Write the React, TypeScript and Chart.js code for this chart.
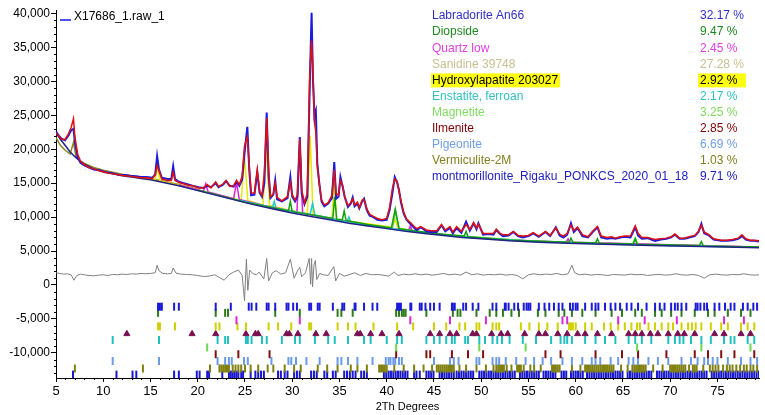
import React, { useEffect, useRef } from "react";
import { Chart, registerables } from "chart.js";

Chart.register(...registerables);

const FONT = "'Liberation Sans', Arial, sans-serif";

// ---------- pattern data (2Theta in degrees, intensity in counts) ----------
const sampleName = "X17686_1.raw_1";

const twoTheta = [
  5.0, 5.3, 5.6, 5.95, 6.3, 6.6, 6.85, 7.0, 7.3, 7.6,
  8.0, 8.5, 9.0, 9.6, 10.2, 10.8, 11.4, 11.7, 12.3, 12.8,
  13.4, 14.0, 14.6, 15.2, 15.5, 15.7, 15.9, 16.2, 16.8, 17.2,
  17.4, 17.6, 18.0, 18.5, 19.0, 19.5, 20.1, 20.6, 21.0, 21.4,
  21.9, 22.2, 22.7, 23.0, 23.4, 23.8, 24.1, 24.4, 24.7, 24.95,
  25.25, 25.45, 25.65, 26.0, 26.3, 26.55, 26.8, 27.05, 27.3, 27.5,
  27.7, 28.0, 28.2, 28.4, 28.9, 29.5, 29.8, 30.0, 30.3, 30.55,
  30.8, 31.0, 31.3, 31.6, 31.85, 32.05, 32.2, 32.35, 32.5, 32.65,
  32.85, 33.1, 33.4, 33.8, 34.2, 34.45, 34.65, 34.9, 35.1, 35.35,
  35.55, 35.9, 36.2, 36.4, 36.6, 36.9, 37.1, 37.4, 37.6, 37.9,
  38.2, 38.6, 39.0, 39.5, 40.0, 40.3, 40.6, 40.85, 41.1, 41.3,
  41.5, 41.8, 42.1, 42.5, 43.0, 43.2, 43.6, 44.2, 44.7, 45.3,
  45.8, 46.2, 46.7, 47.0, 47.4, 47.9, 48.4, 48.8, 49.2, 49.5,
  49.7, 50.2, 50.8, 51.3, 51.6, 52.0, 52.3, 52.9, 53.4, 53.9,
  54.4, 55.0, 55.5, 56.1, 56.8, 57.3, 57.9, 58.3, 58.7, 59.1,
  59.5, 59.8, 60.2, 60.7, 61.3, 61.8, 62.3, 62.7, 63.3, 63.8,
  64.2, 64.7, 65.2, 65.8, 66.3, 66.6, 67.0, 67.6, 68.4, 69.0,
  69.6, 70.1, 70.5, 71.0, 71.5, 72.0, 72.6, 73.0, 73.3, 73.6,
  74.1, 74.6, 75.4, 76.0, 76.6, 77.2, 77.6, 78.0, 78.5, 78.9,
  79.4,
];

const observed = [
  22600, 22000, 21500, 21300, 22000, 22800, 23000, 21000, 18800, 18000,
  17600, 17300, 17000, 16900, 16600, 16500, 16300, 16200, 16200, 16100,
  16000, 15900, 15900, 15800, 16300, 19000, 17000, 15800, 15600, 15600,
  17500, 15600, 15200, 15000, 14800, 14600, 14400, 14300, 14600, 14400,
  15000, 14400, 14800, 15300, 14600, 14500, 15200, 14600, 15500, 19400,
  23300, 17000, 13200, 13300, 16600, 13600, 13000, 15000, 25400, 16000,
  12800, 13300, 15400, 12600, 12300, 12800, 15900, 13000, 12300, 13000,
  21800, 13500, 11900, 13000, 29000, 40100, 30000, 25000, 25700, 18000,
  15200, 12300, 11600, 12000, 12800, 18100, 12700, 13000, 15900, 14400,
  13000, 11500, 12000, 12900, 11600, 12000, 11300, 12300, 12700, 11000,
  10200, 10000, 9600, 9500, 9600, 11000, 13500, 15900, 15100, 14000,
  12200, 10500, 9600, 9000, 8300, 8100, 8500, 7900, 7800, 7800,
  8800, 7900, 8400, 7600, 8400, 7700, 9300, 8000, 9100, 8200,
  9100, 7400, 7500, 7400, 8100, 7500, 7200, 7300, 7800, 7200,
  7000, 7200, 7600, 7100, 7800, 7200, 8500, 7300, 7000, 7400,
  9100, 7800, 8400, 7200, 7000, 7800, 8500, 7000, 6800, 6900,
  6800, 7000, 7100, 7000, 8500, 7300, 6800, 6900, 6500, 6700,
  6800, 7000, 7400, 6800, 6800, 7000, 7200, 7800, 9000, 7600,
  7300, 6700, 6500, 6500, 6600, 6800, 7200, 6700, 6500, 6500,
  6400,
];

const calculated = [
  22400, 21900, 21500, 21400, 22200, 23200, 24500, 21800, 19200, 18200,
  17700, 17300, 17100, 16800, 16600, 16400, 16300, 16200, 16100, 16000,
  15900, 15800, 15800, 15700, 16200, 17600, 16800, 15600, 15400, 15400,
  16600, 15400, 15100, 14900, 14700, 14600, 14300, 14300, 14800, 14300,
  15200, 14500, 14900, 15400, 14500, 14600, 15400, 14800, 16000, 20500,
  21800, 17500, 13600, 13500, 17000, 13800, 13200, 16500, 24600, 17200,
  13000, 13400, 15000, 12900, 12400, 13000, 15200, 13300, 12500, 13300,
  21500, 14000, 12100, 13600, 31000, 36000, 31500, 24000, 22500, 17500,
  15000, 12500, 11800, 12100, 13200, 17000, 13500, 13200, 15400, 14600,
  13000, 11700, 12100, 12700, 11800, 12200, 11400, 12500, 12600, 11200,
  10400, 10100, 9800, 9600, 9800, 11400, 14200, 15600, 15300, 13800,
  12500, 10700, 9700, 9200, 8500, 8300, 8600, 8100, 8000, 8000,
  8900, 8100, 8600, 7800, 8600, 7900, 8900, 8200, 9200, 8400,
  9000, 7600, 7600, 7600, 8200, 7600, 7400, 7400, 7900, 7300,
  7200, 7300, 7700, 7200, 7900, 7300, 8400, 7500, 7200, 7600,
  8800, 8000, 8500, 7400, 7100, 7900, 8600, 7200, 7000, 7100,
  6900, 7100, 7200, 7200, 8700, 7600, 7000, 7000, 6700, 6800,
  6900, 7100, 7500, 6900, 6900, 7100, 7300, 7900, 8800, 7800,
  7400, 6800, 6600, 6600, 6700, 6900, 7400, 6800, 6600, 6600,
  6500,
];

const bgTheta = [5, 5.5, 6, 6.5, 7, 7.5, 8, 9, 10, 11, 12, 13, 14, 15, 16, 18, 20, 22, 24, 26,
  28, 30, 32, 34, 36, 38, 40, 42, 44, 46, 48, 50, 53, 56, 60, 64, 68, 72, 76, 79.4];
const background = [22400, 21400, 20500, 19600, 18900, 18300, 17800, 17100, 16700, 16400,
  16100, 15900, 15700, 15500, 15200, 14600, 13900, 13200, 12500, 11800,
  11200, 10600, 10100, 9600, 9100, 8700, 8300, 7900, 7600, 7300,
  7000, 6800, 6500, 6300, 6100, 5950, 5800, 5700, 5600, 5500];

const diffTheta = [
  5.0, 5.4, 5.8, 6.2, 6.6, 6.9, 7.2, 7.6, 8.0, 8.5,
  9.0, 9.5, 10.0, 10.5, 11.0, 11.5, 12.0, 12.5, 13.0, 13.5,
  14.0, 14.5, 15.0, 15.5, 15.7, 15.9, 16.3, 16.8, 17.2, 17.4,
  17.7, 18.2, 18.8, 19.4, 20.0, 20.6, 21.2, 21.8, 22.3, 22.8,
  23.3, 23.8, 24.3, 24.7, 24.95, 25.15, 25.3, 25.5, 25.8, 26.2,
  26.5, 27.0, 27.3, 27.5, 27.9, 28.3, 28.8, 29.3, 29.8, 30.2,
  30.6, 30.8, 31.0, 31.4, 31.8, 31.95, 32.05, 32.15, 32.3, 32.45,
  32.6, 32.9, 33.3, 33.8, 34.4, 34.6, 35.0, 35.5, 36.0, 36.6,
  37.2, 37.8, 38.4, 39.0, 39.6, 40.2, 40.8, 41.2, 41.8, 42.4,
  43.0, 43.6, 44.2, 44.8, 45.4, 46.0, 46.6, 47.2, 47.8, 48.4,
  49.0, 49.6, 50.2, 50.8, 51.4, 52.0, 52.6, 53.2, 53.8, 54.4,
  55.0, 55.6, 56.2, 56.8, 57.4, 58.0, 58.6, 59.2, 59.6, 59.9,
  60.4, 61.0, 61.6, 62.2, 62.8, 63.4, 64.0, 64.6, 65.2, 65.8,
  66.4, 67.0, 67.6, 68.2, 68.8, 69.4, 70.0, 70.6, 71.2, 71.8,
  72.4, 73.0, 73.6, 74.2, 74.8, 75.4, 76.0, 76.6, 77.2, 77.8,
  78.4, 79.0, 79.4,
];
const difference = [
  1800, 1700, 1600, 1650, 1500, 700, 1400, 1600, 1500, 1400,
  1350, 1450, 1500, 1400, 1550, 1500, 1600, 1550, 1650, 1600,
  1700, 1650, 1700, 1800, 2900, 2100, 1700, 1650, 1700, 2500,
  1750, 1600, 1550, 1500, 1400, 1250, 1300, 1500, 1100, 700,
  1500, 1900, 2200, 1400, -2300, 3800, -800, 2200, 1700, 1500,
  1900, 900, 3900, 600, 1800, 2100, 1600, 1800, 3800, 1000,
  2200, 2600, 1200, 1800, 3900, 100, 3900, -300, 2900, 3600,
  800, 1700, 1500, 1400, 2700, 600, 1700, 1300, 1500, 1800,
  1400, 1700, 1500, 1550, 1450, 1300, 1900, 1400, 1600, 1500,
  1650, 1500, 1600, 1450, 1550, 1700, 1500, 1600, 1450, 1900,
  1500, 1650, 1450, 1550, 1500, 1600, 1450, 1550, 1400, 900,
  1500, 1650, 1500, 1600, 1550, 1700, 1500, 1650, 2900, 1800,
  1500, 1600, 1450, 1550, 1500, 1400, 1550, 1500, 1450, 1600,
  1500, 1550, 1400, 1500, 1550, 1450, 1500, 1650, 1500, 1450,
  1550, 1400, 1000, 1500, 1600, 1500, 1450, 1550, 1500, 1650,
  1500, 1450, 1500,
];

// ---------- individual phase profiles (background + phase) ----------
const vermiculiteTheta = [5, 5.5, 6.0, 6.5, 6.85, 7.1, 7.5, 8, 9, 10, 12, 14, 16, 18, 20];
const vermiculiteCounts = [21700, 20500, 19800, 19300, 21000, 19000, 18300, 17900, 17300, 16900, 16300, 15900, 15400, 14800, 14100];

const sanidineTheta = [14, 15.5, 15.75, 16.0, 18, 20, 22, 24.6, 24.95, 25.3, 26.9, 27.25, 27.6, 29.5, 31.6, 31.9, 32.2, 34.2, 34.45, 34.7, 37, 40.6, 40.9, 41.2, 44, 48, 53, 60, 68, 79.4];
const sanidineCounts = [15900, 15500, 17300, 15300, 14700, 14000, 13300, 12500, 19000, 12400, 11800, 20200, 11700, 11100, 10500, 22000, 10400, 9800, 15000, 9700, 9200, 8500, 9600, 8400, 7700, 7100, 6600, 6200, 5900, 5600];

const quartzTheta = [18, 20.6, 20.85, 21.1, 23.8, 24.1, 24.4, 27, 30.5, 30.8, 31.1, 34, 38, 42.3, 42.5, 42.7, 46, 50, 55, 59.0, 59.2, 59.4, 65, 72, 79.4];
const quartzCounts = [14700, 13800, 14900, 13700, 12700, 15100, 12600, 11700, 10700, 20800, 10600, 9800, 8800, 8000, 8700, 7900, 7400, 6900, 6500, 6300, 6800, 6300, 6100, 5850, 5600];

const diopsideTheta = [20, 25, 29.6, 29.8, 30.0, 34.3, 34.5, 34.7, 35.3, 35.5, 35.7, 38, 40.5, 40.9, 41.3, 45, 48.2, 48.4, 48.6, 53, 59.3, 59.5, 59.7, 62.1, 62.3, 62.5, 66.1, 66.3, 66.5, 73.1, 73.3, 73.5, 79.4];
const diopsideCounts = [14000, 12200, 10900, 12300, 10800, 9800, 13000, 9700, 9600, 10900, 9500, 8900, 8400, 11200, 8300, 7600, 7200, 7900, 7100, 6600, 6300, 6900, 6300, 6200, 6800, 6150, 6050, 6800, 6000, 5800, 6400, 5750, 5600];

const enstatiteTheta = [24, 27.9, 28.1, 28.3, 31.9, 32.15, 32.4, 35.8, 36.0, 36.2, 40, 44, 50, 56, 64, 72, 79.4];
const enstatiteCounts = [12600, 11400, 12300, 11300, 10400, 12000, 10300, 9300, 10000, 9200, 8400, 7700, 6900, 6400, 6000, 5750, 5550];

const magnetiteTheta = [36, 40.6, 40.95, 41.3, 46, 55, 62, 66.0, 66.3, 66.6, 72, 79.4];
const magnetiteCounts = [9200, 8400, 10800, 8300, 7400, 6500, 6150, 6000, 6900, 5950, 5750, 5550];

// ---------- axis tick values ----------
const xTickValues = [5, 10, 15, 20, 25, 30, 35, 40, 45, 50, 55, 60, 65, 70, 75];
const yTickValues = [-10000, -5000, 0, 5000, 10000, 15000, 20000, 25000, 30000, 35000, 40000];

// ---------- phase legend ----------
const phaseNames = [
  "Labradorite An66", "Diopside", "Quartz low", "Sanidine 39748", "Hydroxylapatite 203027",
  "Enstatite, ferroan", "Magnetite", "Ilmenite", "Pigeonite", "Vermiculite-2M",
  "montmorillonite_Rigaku_PONKCS_2020_01_18",
];
const phasePercents = ["32.17 %", "9.47 %", "2.45 %", "27.28 %", "2.92 %", "2.17 %", "3.25 %", "2.85 %", "6.69 %", "1.03 %", "9.71 %"];
const phaseTextColors = ["#3030c8", "#1f8a1f", "#e040e0", "#c8c090", "#000000", "#30c0c0", "#80dd60", "#800000", "#70a0e8", "#808020", "#2020c0"];
const phaseTickColors = ["#1a1ad8", "#2f7a1a", "#d828d8", "#d0d000", "#7a1050", "#20c0c0", "#70d850", "#801010", "#6a9ae8", "#808010", "#1818d0"];
const selectedPhase = 4;

// ---------- reflection positions (2Theta) per phase ----------
const labradoriteTicks = [15.8, 16.0, 16.2, 17.5, 18.0, 21.9, 23.5, 25.4, 25.7, 26.2, 27.3, 27.5, 28.2, 29.4, 29.6, 30.1, 30.5, 31.8, 32.0, 32.7, 32.9, 34.3, 35.3, 35.5, 36.6, 36.7, 37.6, 38.5, 39.0, 41.1, 41.3, 41.5, 42.5, 42.6, 43.5, 43.7, 44.1, 44.6, 45.0, 45.6, 46.9, 47.0, 47.2, 48.1, 48.4, 49.1, 49.7, 51.2, 51.6, 52.5, 52.6, 52.9, 53.5, 53.9, 54.5, 54.8, 55.0, 55.2, 56.1, 56.7, 57.2, 57.7, 58.2, 58.6, 59.4, 59.7, 60.0, 60.2, 61.0, 61.7, 62.1, 62.4, 63.1, 63.7, 64.2, 64.7, 65.4, 65.9, 66.6, 67.5, 68.4, 68.9, 69.4, 70.1, 70.5, 70.8, 71.2, 71.7, 72.7, 72.9, 73.2, 73.6, 73.9, 74.7, 75.2, 75.8, 76.4, 76.8, 77.7, 78.2, 78.8, 79.2];
const diopsideTicks = [15.8, 21.9, 22.9, 23.2, 28.2, 30.8, 34.8, 35.2, 36.4, 41.0, 41.3, 41.6, 41.8, 42.0, 44.2, 47.0, 47.5, 47.8, 49.5, 50.9, 51.6, 52.3, 53.2, 54.0, 56.0, 56.8, 58.2, 58.8, 59.6, 60.7, 62.1, 63.8, 64.9, 66.3, 67.0, 68.4, 69.1, 70.1, 71.2, 72.6, 74.0, 74.7, 76.1, 77.5, 78.5];
const quartzTicks = [24.1, 30.8, 42.5, 46.7, 50.5, 58.6, 59.1, 64.5, 67.3, 70.7, 75.7, 77.8];
const sanidineTicks = [15.8, 16.0, 17.6, 21.9, 22.3, 24.2, 25.1, 27.5, 28.5, 29.9, 31.8, 32.0, 34.8, 35.9, 36.7, 38.6, 41.1, 42.8, 45.0, 46.3, 47.7, 48.3, 49.5, 49.8, 51.2, 51.6, 51.9, 54.2, 55.1, 56.1, 57.0, 58.1, 59.3, 59.5, 59.7, 60.0, 61.0, 61.7, 63.0, 63.7, 64.5, 65.2, 65.9, 66.5, 66.8, 67.7, 68.4, 69.1, 69.8, 70.3, 71.2, 71.9, 72.3, 72.7, 73.3, 74.3, 75.4, 76.1, 77.5, 78.2, 78.9];
const hydroxylapatiteTicks = [12.5, 19.4, 21.9, 25.1, 26.1, 26.4, 29.4, 29.7, 30.6, 32.5, 33.6, 36.9, 37.2, 38.3, 39.5, 41.3, 44.6, 45.6, 46.7, 47.4, 49.1, 49.5, 51.1, 52.1, 52.8, 54.6, 56.1, 56.8, 58.1, 59.1, 60.2, 61.0, 62.3, 63.8, 65.6, 66.3, 67.0, 67.9, 68.7, 69.8, 70.8, 71.5, 72.6, 74.7, 75.7, 77.5, 78.5];
const enstatiteTicks = [11.0, 15.9, 22.1, 22.9, 23.2, 25.1, 25.3, 25.7, 26.8, 27.3, 28.9, 30.3, 30.8, 32.4, 33.8, 34.5, 35.9, 37.6, 38.3, 40.0, 41.1, 41.6, 44.2, 45.0, 45.6, 46.3, 46.9, 47.2, 48.3, 48.6, 49.8, 50.4, 51.2, 51.7, 52.2, 53.0, 54.4, 55.8, 57.4, 58.4, 58.8, 59.1, 59.6, 61.0, 62.1, 63.1, 64.2, 65.6, 66.3, 67.0, 68.0, 69.8, 70.5, 71.0, 71.4, 72.2, 73.3, 74.3, 75.7, 76.4, 76.8, 78.2, 78.9];
const magnetiteTicks = [21.0, 41.0, 49.8, 54.7, 66.5, 73.3, 78.5];
const ilmeniteTicks = [21.9, 24.3, 27.6, 41.0, 44.2, 44.6, 46.9, 48.6, 50.2, 56.8, 58.4, 62.1, 64.9, 66.6, 69.6, 72.6, 74.0, 75.4, 76.8, 78.9];
const pigeoniteTicks = [11.0, 15.9, 22.1, 22.9, 23.3, 23.6, 24.9, 25.3, 27.8, 29.6, 29.9, 30.4, 31.5, 32.9, 34.8, 35.2, 35.9, 36.9, 38.5, 39.9, 40.2, 40.4, 40.7, 40.9, 41.3, 41.6, 45.0, 46.7, 47.1, 47.6, 49.5, 49.8, 51.2, 51.6, 51.9, 52.6, 53.7, 54.7, 55.6, 56.5, 57.4, 58.6, 59.6, 60.7, 61.7, 62.1, 62.6, 63.7, 64.5, 65.6, 66.1, 66.6, 67.7, 68.7, 69.8, 71.2, 72.2, 72.9, 73.6, 74.0, 74.5, 75.0, 76.1, 77.5, 78.5, 79.2];
const vermiculiteTicks = [7.0, 14.2, 21.3, 22.3, 22.5, 22.7, 22.9, 23.1, 23.3, 23.7, 24.0, 24.3, 24.6, 25.0, 25.6, 26.4, 27.4, 28.0, 29.2, 30.2, 30.9, 32.7, 33.7, 34.8, 36.2, 36.9, 37.9, 39.2, 39.4, 39.6, 39.8, 40.0, 40.8, 41.8, 42.9, 43.9, 44.8, 45.3, 45.5, 45.7, 45.9, 46.1, 46.3, 46.5, 46.7, 46.9, 47.1, 47.7, 48.4, 49.5, 50.5, 51.3, 51.6, 51.8, 52.0, 52.2, 52.4, 52.7, 53.2, 53.8, 54.0, 54.2, 54.5, 55.2, 55.6, 56.3, 57.5, 57.7, 57.9, 58.1, 58.3, 59.6, 60.5, 61.0, 61.2, 61.4, 61.6, 61.8, 62.0, 62.2, 62.4, 62.6, 62.8, 63.0, 63.2, 63.4, 63.6, 63.8, 64.0, 64.8, 65.5, 66.0, 66.2, 66.4, 66.6, 66.8, 67.0, 67.2, 67.4, 68.2, 69.2, 70.0, 70.2, 70.4, 70.6, 70.8, 71.0, 71.2, 71.4, 71.6, 72.0, 72.4, 72.6, 72.8, 73.5, 74.2, 74.5, 74.8, 75.1, 75.6, 76.0, 76.3, 76.6, 77.0, 77.4, 77.8, 78.1, 78.5, 78.8, 79.2];
const montmorilloniteTicks = [6.8, 11.4, 13.1, 13.5, 17.5, 18.0, 19.9, 20.2, 21.0, 21.2, 22.6, 23.3, 23.5, 23.7, 23.9, 24.1, 24.3, 24.6, 24.8, 25.6, 26.1, 26.4, 26.7, 27.0, 28.5, 28.8, 29.2, 29.5, 30.2, 30.5, 30.8, 32.0, 32.3, 32.6, 33.4, 33.7, 34.3, 34.6, 35.5, 35.8, 36.1, 36.4, 36.7, 37.3, 37.6, 37.9, 39.7, 39.95, 40.2, 40.45, 40.7, 40.95, 41.2, 41.45, 41.7, 41.95, 42.2, 42.9, 43.15, 43.5, 44.2, 44.45, 44.7, 44.95, 45.6, 45.85, 46.1, 46.35, 46.6, 46.85, 47.1, 47.4, 47.65, 47.9, 48.15, 48.4, 48.65, 48.9, 49.15, 49.8, 50.05, 50.3, 50.55, 50.8, 51.05, 51.3, 51.55, 51.8, 52.05, 52.3, 52.55, 52.8, 53.05, 53.3, 53.55, 54.1, 54.35, 54.6, 54.85, 55.1, 55.35, 55.6, 55.85, 56.1, 56.6, 56.85, 57.1, 57.35, 57.6, 57.85, 58.5, 58.75, 59.0, 59.5, 59.75, 60.0, 60.25, 60.5, 60.75, 61.2, 61.45, 61.7, 61.95, 62.2, 62.45, 62.7, 62.95, 63.2, 63.45, 63.7, 63.95, 64.2, 64.45, 64.7, 64.95, 65.5, 65.75, 66.0, 66.25, 66.5, 66.75, 67.0, 67.25, 67.5, 67.75, 68.0, 68.6, 68.85, 69.1, 69.35, 69.6, 69.85, 70.1, 70.35, 70.6, 70.85, 71.1, 71.35, 71.6, 71.85, 72.1, 72.35, 72.6, 72.85, 73.1, 73.35, 73.6, 73.85, 74.4, 74.65, 74.9, 75.15, 75.4, 75.65, 75.9, 76.15, 76.4, 76.65, 76.9, 77.15, 77.4, 77.65, 77.9, 78.15, 78.4, 78.65, 78.9, 79.15, 79.4];

const phaseTicks = [labradoriteTicks, diopsideTicks, quartzTicks, sanidineTicks, hydroxylapatiteTicks, enstatiteTicks, magnetiteTicks, ilmeniteTicks, pigeoniteTicks, vermiculiteTicks, montmorilloniteTicks];
// intensity level (counts) at which each phase's reflection row is drawn
const tickRowLevels = [-3200, -4100, -5200, -6100, -7200, -8100, -9200, -10200, -11200, -12300, -13200];

const OBS_COLOR = "#1a1ae0";

function pairs(xs: number[], ys: number[]) {
  return xs.map((x, i) => ({ x, y: ys[i] }));
}

function lineDs(label: string, xs: number[], ys: number[], color: string, width: number, order: number) {
  return {
    label,
    data: pairs(xs, ys),
    borderColor: color,
    backgroundColor: color,
    borderWidth: width,
    pointRadius: 0,
    tension: 0,
    fill: false,
    order,
  };
}

const overlayPlugin = {
  id: "xrdOverlay",
  afterDraw(chart: any) {
    const ctx = chart.ctx as CanvasRenderingContext2D;
    const xs = chart.scales.x;
    const ys = chart.scales.y;
    const area = chart.chartArea;
    ctx.save();
    // minor ticks
    ctx.strokeStyle = "#000";
    ctx.lineWidth = 1;
    ctx.beginPath();
    for (let v = Math.ceil(xs.min); v <= xs.max; v += 1) {
      if (v % 5 === 0) continue;
      const px = Math.round(xs.getPixelForValue(v)) + 0.5;
      ctx.moveTo(px, area.bottom);
      ctx.lineTo(px, area.bottom + 2);
    }
    for (let v = -13000; v <= 40000; v += 1000) {
      if (v % 5000 === 0) continue;
      const py = Math.round(ys.getPixelForValue(v)) + 0.5;
      ctx.moveTo(area.left, py);
      ctx.lineTo(area.left - 2, py);
    }
    ctx.stroke();

    ctx.font = `12px ${FONT}`;
    ctx.textBaseline = "middle";
    ctx.textAlign = "left";
    // sample legend
    ctx.strokeStyle = OBS_COLOR;
    ctx.lineWidth = 1.5;
    ctx.beginPath();
    ctx.moveTo(60, 20);
    ctx.lineTo(71, 20);
    ctx.stroke();
    ctx.fillStyle = "#000";
    ctx.fillText(sampleName, 74, 17);

    // phase table
    const pctW = Math.max(...phasePercents.map((p) => ctx.measureText(p).width));
    phaseNames.forEach((name, i) => {
      const y = 16 + i * 16.1;
      if (i === selectedPhase) {
        ctx.fillStyle = "#ffff10";
        ctx.fillRect(431, y - 7, ctx.measureText(name).width + 3, 14);
        ctx.fillRect(698, y - 7, pctW + 4, 14);
      }
      ctx.fillStyle = phaseTextColors[i];
      ctx.fillText(name, 432, y);
      ctx.fillText(phasePercents[i], 700, y);
    });
    ctx.restore();
  },
};

export default function App() {
  const canvasRef = useRef<HTMLCanvasElement | null>(null);

  useEffect(() => {
    if (!canvasRef.current) return;
    Chart.defaults.font.family = FONT;

    const tickSets = phaseTicks.map((ticks, i) => {
      const tri = i === selectedPhase;
      return {
        label: phaseNames[i] + " reflections",
        data: ticks.map((x) => ({ x, y: tickRowLevels[i] })),
        showLine: false,
        pointStyle: tri ? "triangle" : "line",
        rotation: tri ? 0 : 90,
        pointRadius: tri ? 3.5 : 4,
        pointBorderWidth: tri ? 1 : 2,
        pointBorderColor: phaseTickColors[i],
        pointBackgroundColor: phaseTickColors[i],
        borderColor: phaseTickColors[i],
        backgroundColor: phaseTickColors[i],
        order: 0,
      };
    });

    const chart = new Chart(canvasRef.current, {
      type: "line",
      data: {
        datasets: [
          lineDs("Vermiculite-2M", vermiculiteTheta, vermiculiteCounts, "#8a8a20", 1.5, 8),
          lineDs("Sanidine 39748", sanidineTheta, sanidineCounts, "#e8e800", 1.5, 7),
          lineDs("Quartz low", quartzTheta, quartzCounts, "#e020e0", 1.5, 6),
          lineDs("Diopside", diopsideTheta, diopsideCounts, "#10a010", 1.5, 5),
          lineDs("Enstatite, ferroan", enstatiteTheta, enstatiteCounts, "#20c8c8", 1.5, 5),
          lineDs("Magnetite", magnetiteTheta, magnetiteCounts, "#70d850", 1.5, 5),
          lineDs("Background", bgTheta, background, "#22228a", 1.5, 4),
          lineDs(sampleName, twoTheta, observed, OBS_COLOR, 2, 3),
          lineDs("Calculated", twoTheta, calculated, "#e01010", 1.5, 2),
          lineDs("Difference", diffTheta, difference, "#808080", 1, 1),
          ...(tickSets as any[]),
        ],
      },
      options: {
        animation: false,
        responsive: false,
        maintainAspectRatio: false,
        devicePixelRatio: 1,
        layout: { padding: { top: 10, right: 0, left: 0, bottom: 0 } },
        plugins: {
          legend: { display: false },
          tooltip: { enabled: false },
          title: { display: false },
        },
        scales: {
          x: {
            type: "linear",
            min: 5,
            max: 79.4,
            afterBuildTicks: (s: any) => {
              s.ticks = xTickValues.map((value) => ({ value }));
            },
            ticks: {
              autoSkip: false,
              maxRotation: 0,
              color: "#000",
              padding: 2,
              font: { family: FONT, size: 13 },
            },
            grid: { display: true, drawOnChartArea: false, drawTicks: true, tickLength: 4, color: "#000" },
            border: { display: true, color: "#000", width: 1 },
            title: {
              display: true,
              text: "2Th Degrees",
              color: "#000",
              font: { family: FONT, size: 11 },
              padding: { top: 0, bottom: 1.5 },
            },
            afterFit: (s: any) => {
              s.height = 37;
            },
          },
          y: {
            type: "linear",
            min: -13700,
            max: 40500,
            afterBuildTicks: (s: any) => {
              s.ticks = yTickValues.map((value) => ({ value }));
            },
            ticks: {
              autoSkip: false,
              color: "#000",
              padding: 1,
              font: { family: FONT, size: 12 },
              callback: (v: any) => Number(v).toLocaleString("en-US"),
            },
            grid: { display: true, drawOnChartArea: false, drawTicks: true, tickLength: 5, color: "#000" },
            border: { display: true, color: "#000", width: 1 },
            afterFit: (s: any) => {
              s.width = 56;
            },
          },
        },
      },
      plugins: [overlayPlugin],
    } as any);

    return () => chart.destroy();
  }, []);

  return (
    <div style={{ position: "fixed", left: 0, top: 0, width: 765, height: 415, background: "#fff" }}>
      <canvas ref={canvasRef} width={765} height={415} style={{ display: "block" }} />
    </div>
  );
}
